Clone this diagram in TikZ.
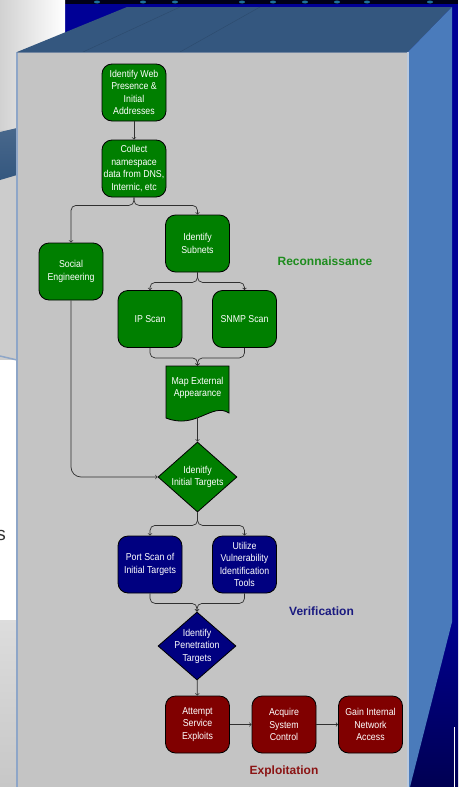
\documentclass[tikz,border=0pt]{standalone}
\usepackage{fontspec}
\setmainfont{Liberation Sans}
\newfontfamily\boxfont[FakeStretch=0.88]{Liberation Sans}
\usetikzlibrary{shapes.geometric}

\definecolor{slidenavy}{HTML}{000096}
\definecolor{topface}{HTML}{34577F}
\definecolor{sideface}{HTML}{4A7BBB}
\definecolor{frontface}{HTML}{C4C4C4}
\definecolor{edgeblue}{HTML}{8EA6C8}
\definecolor{recongreen}{HTML}{007F00}
\definecolor{verifblue}{HTML}{000080}
\definecolor{exploitred}{HTML}{800000}
\definecolor{recontext}{HTML}{1E8C1E}
\definecolor{veriftext}{HTML}{1A1A80}
\definecolor{exploittext}{HTML}{8B1414}
\definecolor{wire}{HTML}{303030}

\begin{document}
\begin{tikzpicture}[x=1pt,y=-1pt,
    box/.style = {draw, rounded corners=10pt, minimum width=64pt, minimum height=57pt,
        align=center, text=white, inner sep=1pt, line width=0.8pt,
        font=\boxfont\fontsize{10}{12.5}\selectfont},
    recon/.style = {box, fill=recongreen},
    verif/.style = {box, fill=verifblue},
    exploit/.style = {box, fill=exploitred},
    decide/.style = {draw, diamond, inner sep=-5pt, minimum width=79pt, minimum height=70pt,
        align=center, text=white, line width=0.8pt,
        font=\boxfont\fontsize{10}{12.5}\selectfont},
    phase/.style = {font=\bfseries\fontsize{12}{14}\selectfont},
    link/.style = {->, draw=wire, line width=0.7pt, rounded corners=5pt},
    node distance={76pt}]
    \useasboundingbox (0,0) rectangle (458,787);

    % slide behind the box
    \fill[slidenavy] (0,0) rectangle (458,787);
    \shade[top color=slidenavy, bottom color=slidenavy!55!black] (400,600) rectangle (458,787);
    \fill[black!90!blue] (65,0) rectangle (458,4);
    \foreach \dx in {97,143,175,242,273,305,337,367,430}
        \fill[cyan!80!white, opacity=0.6] (\dx,2) ellipse (3 and 1.5);
    \shade[left color=black!18, right color=white] (0,0) rectangle (65,130);
    \fill[black!20] (0,130) rectangle (17,360);
    \shade[top color=topface!90!white, bottom color=topface] (0,132) -- (17,128) -- (17,175) -- (0,180) -- cycle;
    \shade[top color=white, bottom color=black!22] (0,360) rectangle (17,787);
    \fill[white] (0,360) rectangle (17,620);
    \draw[edgeblue, line width=1.5pt] (0,356) -- (17,360);
    \node[anchor=base east, text=black!80, font=\fontsize{19}{20}\selectfont, inner sep=0pt] (frag) at (6,540) {s};
    \fill[white] (453.5,727) rectangle (455,787);

    % the box
    \fill[topface] (17,52) -- (127,7) -- (452,7) -- (408,52) -- cycle;
    \draw[topface!85!black, line width=0.4pt] (83,52) -- (180,7);
    \draw[topface!85!black, line width=0.4pt] (180,52) -- (260,7);
    \fill[sideface] (408,52) -- (452,7) -- (452,622) -- (410,787) -- (408,787) -- cycle;
    \fill[frontface] (17,52) rectangle (408,787);
    \draw[edgeblue, line width=2pt] (17,52) -- (17,787);
    \draw[edgeblue!80!black, line width=1pt] (17,52) -- (408,52);
    \draw[edgeblue!60!white, line width=1.5pt] (408,52) -- (408,787);

    % map document shape
    \fill[recongreen, draw=black, line width=0.8pt] (166,366) -- (229,366) -- (229,413)
        .. controls (212,402) and (196,430) .. (166,418) -- cycle;

    \node[recon] (ident) at (134,92.5) {Identify Web\\Presence \&\\Initial\\Addresses};
    \node[recon] (collect) [below of=ident] {Collect\\namespace\\data from DNS,\\Internic, etc};
    \node[recon] (social) at (71,271.5) {Social\\Engineering};
    \node[recon] (subnets) at (197.5,243.5) {Identify\\Subnets};
    \node[recon] (ipscan) at (150,319) {IP Scan};
    \node[recon] (snmp) at (244.5,319) {SNMP Scan};
    \node[align=center, text=white, minimum width=63pt, minimum height=44pt, inner sep=0pt,
        font=\boxfont\fontsize{10}{12.5}\selectfont] (mapext) at (197.5,388) {Map External\\Appearance};
    \node[decide, fill=recongreen] (init) at (197.5,477) {Idenitfy\\Initial Targets};
    \node[verif] (port) at (150,564.5) {Port Scan of\\Initial Targets};
    \node[verif] (vuln) at (244.5,564.5) {Utilize\\Vulnerability\\Identification\\Tools};
    \node[decide, fill=verifblue, minimum height=68pt, minimum width=78pt] (pentest) at (197,646) {Identify\\Penetration\\Targets};
    \node[exploit] (attempt) at (197.5,724.5) {Attempt\\Service\\Exploits};
    \node[exploit] (acquire) [right of=attempt, node distance=86.5pt] {Acquire\\System\\Control};
    \node[exploit] (gain) [right of=acquire, node distance=86.5pt] {Gain Internal\\Network\\Access};

    \node[phase, text=recontext] (reconlabel) at (325,261) {Reconnaissance};
    \node[phase, text=veriftext] (veriflabel) at (321.5,611.5) {Verification};
    \node[phase, text=exploittext] (exploitlabel) at (284,771) {Exploitation};

    \draw[link] (ident) -- (collect);
    \draw[link] (collect.south) -- ++(0,8) -| (social.north);
    \draw[link] (collect.south) -- ++(0,8) -| (subnets.north);
    \draw[link] (subnets.south) -- ++(0,10) -| (ipscan.north);
    \draw[link] (subnets.south) -- ++(0,10) -| (snmp.north);
    \draw[link] (ipscan.south) -- ++(0,10) -| (mapext.north);
    \draw[link] (snmp.south) -- ++(0,10) -| (mapext.north);
    \draw[link] ([yshift=-7pt]mapext.south) -- (init.north);
    \draw[link, rounded corners=10pt] (social.south) |- (init.west);
    \draw[link] (init.south) -- ++(0,13) -| (port.north);
    \draw[link] (init.south) -- ++(0,13) -| (vuln.north);
    \draw[link] (port.south) -- ++(0,10) -| (pentest.north);
    \draw[link] (vuln.south) -- ++(0,10) -| (pentest.north);
    \draw[link] (pentest) -- (attempt);
    \draw[link] (attempt) -- (acquire);
    \draw[link] (acquire) -- (gain);
\end{tikzpicture}
\end{document}
